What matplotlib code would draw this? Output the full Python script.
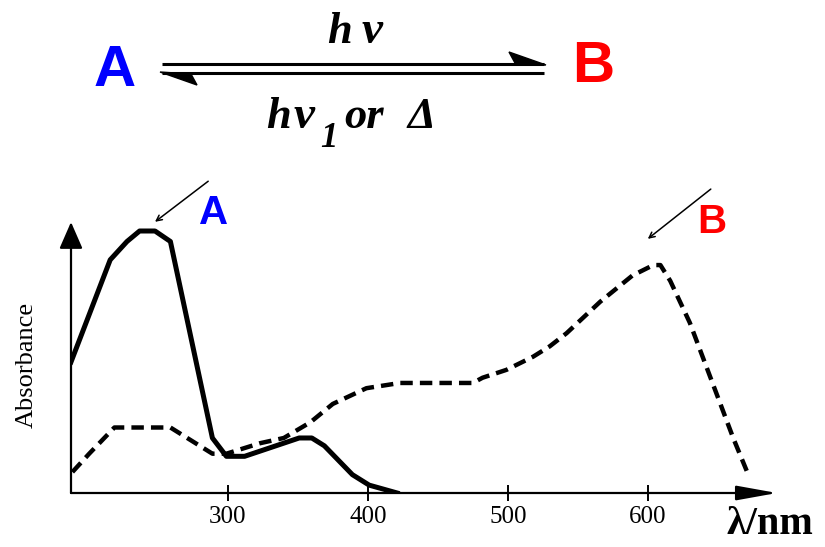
import matplotlib
matplotlib.use("Agg")
import matplotlib.pyplot as plt
from matplotlib.patches import Polygon

# absorption spectra (a.u., peak of A = 1)
wl_A = [188, 216, 228, 237, 248, 259, 289, 299, 312, 351, 360, 369, 389, 401, 421]
abs_A = [0.50, 0.89, 0.96, 1.00, 1.00, 0.96, 0.21, 0.14, 0.14, 0.21, 0.21, 0.18, 0.07, 0.03, 0.0]

wl_B = [189, 201, 219, 259, 271, 289, 299, 323, 340, 359, 375, 399, 423, 475, 482,
        499, 518, 530, 542, 566, 589, 604, 609, 616, 630, 661, 671]
abs_B = [0.08, 0.15, 0.25, 0.25, 0.21, 0.15, 0.15, 0.19, 0.21, 0.27, 0.34, 0.40, 0.42, 0.42, 0.44,
         0.47, 0.52, 0.56, 0.61, 0.73, 0.83, 0.87, 0.87, 0.81, 0.65, 0.21, 0.08]

x_ticks = [300, 400, 500, 600]
peak_A = (248, 0.85)
peak_B = (600, 0.90)

W, H = 825, 547
fig = plt.figure(figsize=(W / 100, H / 100), dpi=100)

# overlay in pixel coords for the reaction scheme
ov = fig.add_axes([0, 0, 1, 1])
ov.set_xlim(0, W)
ov.set_ylim(H, 0)
ov.axis("off")
ov.set_zorder(3)
ov.patch.set_alpha(0)

serif_bi = dict(family="Liberation Serif", weight="bold", style="italic")
ov.text(115, 71, "A", color="#0000ff", fontsize=42, fontweight="bold",
        family="Liberation Sans", ha="center", va="center")
ov.text(593, 67, "B", color="#ff0000", fontsize=42, fontweight="bold",
        family="Liberation Sans", ha="center", va="center")
ov.plot([162, 544], [64, 64], color="black", lw=2.2, solid_capstyle="butt")
ov.plot([162, 544], [73, 73], color="black", lw=2.2, solid_capstyle="butt")
ov.add_patch(Polygon([(546, 65), (509, 52), (515, 63)], closed=True, color="black"))
ov.add_patch(Polygon([(160, 72), (197, 85), (191, 74)], closed=True, color="black"))

# upper label: h nu
ov.text(327, 43, "h", fontsize=32, ha="left", va="baseline", **serif_bi)
ov.text(362, 43, "ν", fontsize=34, ha="left", va="baseline", **serif_bi)
# lower label: h nu_1 or Delta
ov.text(266, 128, "h", fontsize=32, ha="left", va="baseline", **serif_bi)
ov.text(294, 128, "ν", fontsize=34, ha="left", va="baseline", **serif_bi)
ov.text(320, 147, "1", fontsize=25, ha="left", va="baseline", **serif_bi)
ov.text(344, 128, "or", fontsize=32, ha="left", va="baseline", **serif_bi)
ov.text(407, 128, "Δ", fontsize=32, ha="left", va="baseline", **serif_bi)

# spectrum axes
ax = fig.add_axes([71 / W, 54 / H, 719 / W, 330 / H])
ax.set_xlim(188, 188 + 719 / 1.4)
ax.set_ylim(0, 330 / 262)
ax.patch.set_alpha(0)
for s in ax.spines.values():
    s.set_visible(False)

ax.plot(wl_A, abs_A, color="black", lw=3.6, solid_joinstyle="round")
ax.plot(wl_B, abs_B, color="black", lw=3.2, dashes=(2.8, 1.6))

ax.set_xticks(x_ticks)
ax.set_yticks([])
ax.tick_params(axis="x", direction="inout", length=11, width=1.4, pad=4)
for lab in ax.get_xticklabels():
    lab.set_fontfamily("Liberation Serif")
    lab.set_fontsize(18)

# axis arrows
ax.annotate("", xy=(0.982, 0), xytext=(0, 0), xycoords="axes fraction",
            arrowprops=dict(arrowstyle="-|>,head_length=2.5,head_width=0.45",
                            color="black", lw=1.6, shrinkA=0, shrinkB=0))
ax.annotate("", xy=(0, 0.821), xytext=(0, 0), xycoords="axes fraction",
            arrowprops=dict(arrowstyle="-|>,head_length=1.65,head_width=0.72",
                            color="black", lw=1.6, shrinkA=0, shrinkB=0))

# pointer arrows and labels
ax.annotate("", xy=(peak_A[0], 1.035), xytext=(286, 1.19),
            arrowprops=dict(arrowstyle="->", color="black", lw=1.1, shrinkA=0, shrinkB=0),
            annotation_clip=False)
ax.annotate("", xy=(peak_B[0], 0.97), xytext=(645, 1.16),
            arrowprops=dict(arrowstyle="->", color="black", lw=1.1, shrinkA=0, shrinkB=0),
            annotation_clip=False)
ov.text(214, 213, "A", color="#0000ff", fontsize=29, fontweight="bold",
        family="Liberation Sans", ha="center", va="center")
ov.text(712, 222, "B", color="#ff0000", fontsize=29, fontweight="bold",
        family="Liberation Sans", ha="center", va="center")

ov.text(27, 365, "Absorbance", rotation=90, fontsize=19, family="Liberation Serif",
        ha="center", va="center")
ov.text(770, 524, "λ/nm", fontsize=29, family="Liberation Serif", fontweight="bold",
        ha="center", va="center")

fig.savefig("out.png", dpi=100)
